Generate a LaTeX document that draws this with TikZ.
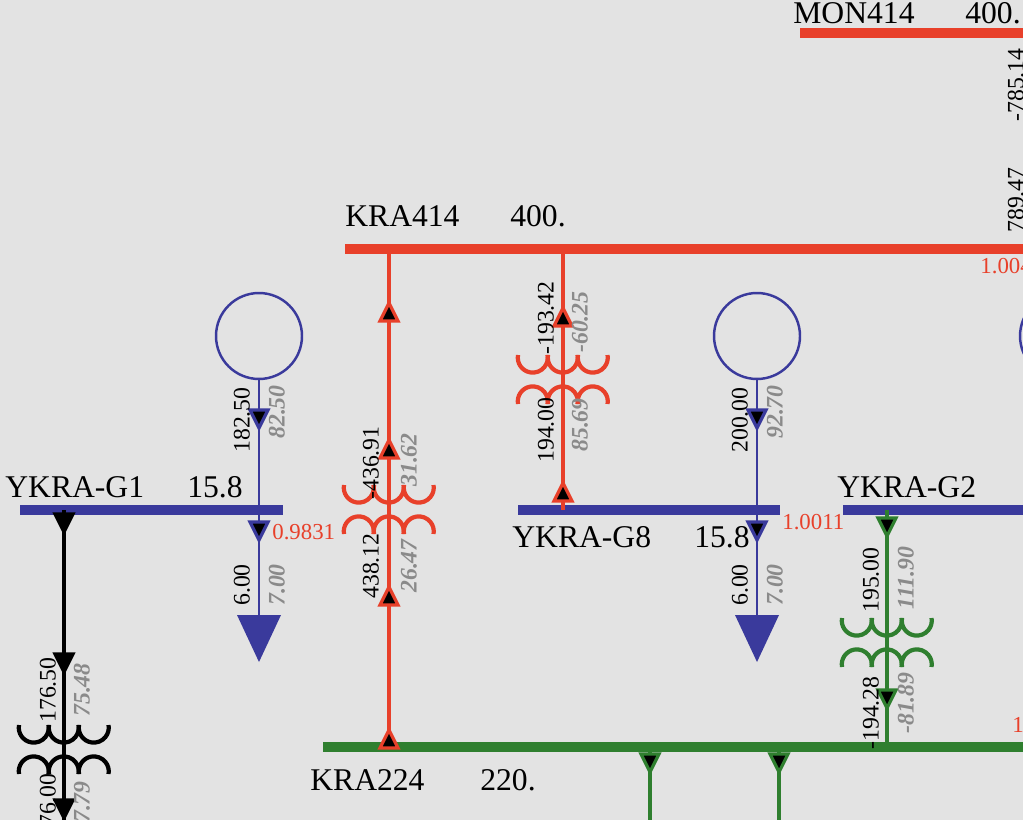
\documentclass[tikz,border=0pt]{standalone}
\usepackage{fontspec}
\setmainfont{Liberation Serif}
\usepackage{xcolor}

\definecolor{busred}{HTML}{E8402A}
\definecolor{busblue}{HTML}{3A3A9C}
\definecolor{busgreen}{HTML}{2F7F2F}
\definecolor{valgray}{HTML}{8A8A8A}
\definecolor{sheet}{HTML}{E3E3E3}

\tikzset{
  bus/.style={line width=5.6pt},
  branch/.style={line width=2.2pt},
  busname/.style={font=\fontsize{18}{18}\selectfont, anchor=base west, inner sep=0pt},
  pval/.style={font=\fontsize{13.5}{13.5}\selectfont, rotate=90, inner sep=0pt},
  qval/.style={font=\fontsize{13.5}{13.5}\selectfont\bfseries\itshape, text=valgray, rotate=90, inner sep=0pt},
  volt/.style={font=\fontsize{13}{13}\selectfont, text=busred, anchor=base west, inner sep=0pt},
}

% flow markers: colour, x, y
\newcommand{\flowup}[3]{\draw[#1,line width=1.8pt,fill=black] (#2-9,#3+8) -- (#2+9,#3+8) -- (#2,#3-10) -- cycle;}
\newcommand{\flowdown}[3]{\draw[#1,line width=1.8pt,fill=black] (#2-9,#3-8) -- (#2+9,#3-8) -- (#2,#3+10) -- cycle;}
% two-winding transformer: colour, x, y of upper winding
\newcommand{\xfmr}[3]{
  \foreach \k in {-30,0,30}{
    \draw[#1,line width=2.4pt] (#2+\k-15,#3-2) arc[start angle=190,end angle=-10,radius=15];
    \draw[#1,line width=2.4pt] (#2+\k-15,#3+47) arc[start angle=170,end angle=370,radius=15];
  }
}

\begin{document}
\begin{tikzpicture}[x=0.02cm,y=-0.02cm]
\fill[sheet] (0,0) rectangle (1023,820);
\useasboundingbox (0,0) rectangle (1023,820);
\clip (0,0) rectangle (1023,820);

% buses
\draw[bus,busred] (800,33) -- (1030,33);
\draw[bus,busred] (345,249) -- (1030,249);
\draw[bus,busblue] (20,510) -- (283,510);
\draw[bus,busblue] (518,510) -- (780,510);
\draw[bus,busblue] (843,510) -- (1030,510);
\draw[bus,busgreen] (323,747) -- (1030,747);

% bus names
\node[busname] (mon) at (793,24) {MON414};
\node[busname] at (965,24) {400.};
\node[busname] (kra4) at (345,227) {KRA414};
\node[busname] at (510,227) {400.};
\node[busname] (g1) at (5,497) {YKRA-G1};
\node[busname] at (187,497) {15.8};
\node[busname] (g8) at (512,547) {YKRA-G8};
\node[busname] at (694,547) {15.8};
\node[busname] (g2) at (837,497) {YKRA-G2};
\node[busname] (kra2) at (310,790) {KRA224};
\node[busname] at (480,790) {220.};

% voltages
\node[volt] at (272,539) {0.9831};
\node[volt] at (782,529) {1.0011};
\node[volt] at (980,274) {1.004};
\node[volt] at (1012,732) {1};

% MON414 - KRA414 line
\node[pval] at (1016,85) {-785.14};
\node[pval] at (1016,200) {789.47};

% KRA414 - KRA224 transformer
\coordinate (t1a) at (389,249);
\coordinate (t1b) at (389,747);
\draw[branch,busred] (t1a) -- (t1b);
\xfmr{busred}{389}{487}
\flowup{busred}{389}{313}
\flowup{busred}{389}{450}
\flowup{busred}{389}{597}
\flowup{busred}{389}{740}
\node[pval] at (371,463) {-436.91};
\node[qval] at (409,460) {31.62};
\node[pval] at (371,566) {438.12};
\node[qval] at (409,566) {26.47};

% KRA414 - YKRA-G8 transformer
\coordinate (t8a) at (563,249);
\coordinate (t8b) at (563,510);
\draw[branch,busred] (t8a) -- (t8b);
\xfmr{busred}{563}{357}
\flowup{busred}{563}{318}
\flowup{busred}{563}{493}
\node[pval] at (546,318) {-193.42};
\node[qval] at (580,322) {-60.25};
\node[pval] at (546,430) {194.00};
\node[qval] at (580,425) {85.69};

% generators and loads
\foreach \x/\p/\q/\n in {259/182.50/82.50/1, 757/200.00/92.70/8}{
  \node[draw=busblue,line width=1.4pt,circle,minimum size=1.72cm,inner sep=0pt] (gen\n) at (\x,336) {};
  \draw[busblue,line width=1.4pt] (gen\n.south) -- (\x,510);
  \flowdown{busblue}{\x}{418}
  \node[pval] at (\x-17,420) {\p};
  \node[qval] at (\x+18,412) {\q};
  \coordinate (ld\n) at (\x,615);
  \draw[busblue,line width=1.4pt] (\x,510) -- (ld\n);
  \flowdown{busblue}{\x}{530}
  \fill[busblue] (\x-22,615) -- (\x+22,615) -- (\x,662) -- cycle;
  \node[pval] at (\x-17,585) {6.00};
  \node[qval] at (\x+18,585) {7.00};
}
\node[draw=busblue,line width=1.4pt,circle,minimum size=1.72cm,inner sep=0pt] at (1063,336) {};

% YKRA-G1 step-up (partly shown)
\coordinate (t2a) at (64,510);
\coordinate (t2b) at (64,830);
\draw[branch,black] (t2a) -- (t2b);
\xfmr{black}{64}{727}
\flowdown{black}{64}{522}
\flowdown{black}{64}{662}
\flowdown{black}{64}{808}
\node[pval] at (48,690) {176.50};
\node[qval] at (82,690) {75.48};
\node[pval] at (48,806) {176.00};
\node[qval] at (82,808) {57.79};

% YKRA-G2 - KRA224 transformer
\coordinate (t3a) at (887,510);
\coordinate (t3b) at (887,747);
\draw[branch,busgreen] (t3a) -- (t3b);
\xfmr{busgreen}{887}{620}
\flowdown{busgreen}{887}{526}
\flowdown{busgreen}{887}{698}
\node[pval] at (871,580) {195.00};
\node[qval] at (906,578) {111.90};
\node[pval] at (871,713) {-194.28};
\node[qval] at (906,703) {-81.89};

% KRA224 outgoing lines
\foreach \x/\p/\q in {650/14.68/46.98, 779/14.36/10.61}{
  \draw[branch,busgreen] (\x,747) -- (\x,830);
  \flowdown{busgreen}{\x}{762}
  \node[pval,anchor=east] at (\x-17,828) {\p};
  \node[qval,anchor=east] at (\x+18,828) {\q};
}
\node[pval,anchor=east] at (1016,828) {44.07};
\end{tikzpicture}
\end{document}
